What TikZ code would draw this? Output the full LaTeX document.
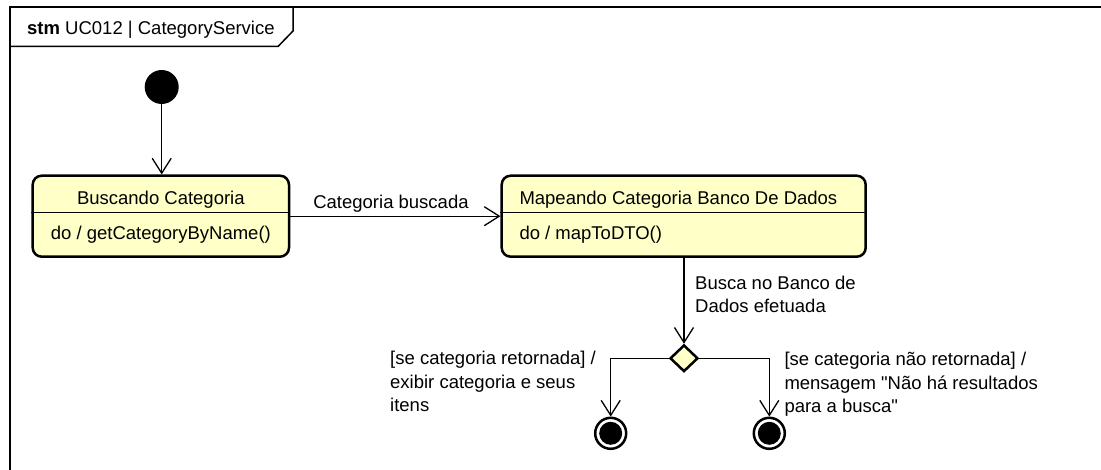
\documentclass[tikz,border=0pt]{standalone}
\usepackage{fontspec}
\setmainfont{Liberation Sans}
\usetikzlibrary{arrows.meta,shapes.geometric}
\definecolor{stfill}{RGB}{255,255,200}
\newcommand\dq{\XeTeXglyph\XeTeXglyphindex "quotedbl"\relax}
\begin{document}
\begin{tikzpicture}[x=1pt,y=-1pt,
  every node/.style={font=\fontsize{18.5}{23.4}\selectfont, inner sep=0pt},
  statebox/.style={draw, line width=2.5pt, rounded corners=9pt, fill=stfill, minimum width=#1, minimum height=81pt},
  conn/.style={line width=1.3pt, -{Straight Barb[length=15pt,width=19pt]}},
  divider/.style={line width=1.3pt},
  final/.style={circle, draw, line width=2.5pt, fill=white, minimum size=31pt},
  decision/.style={diamond, draw, fill=stfill, line width=2.5pt, minimum width=28pt, minimum height=26.7pt},
  lbl/.style={align=left, anchor=north west}
]
\useasboundingbox (0,0) rectangle (1101,470);
% frame
\draw[line width=2pt] (9.5,470) -- (9.5,7.5) -- (1101,7.5);
\draw[line width=1.5pt] (9.5,46.5) -- (278,46.5) -- (293,31) -- (293,7.5);
\node[anchor=base west] (title) at (27,35) {\textbf{stm} UC012 | CategoryService};

% initial
\node[circle, fill=black, minimum size=34pt] (init) at (161.7,87) {};

% states
\node[statebox=256.3] (b1) at (160.85,216.2) {};
\draw[divider] (b1.west |- 0,212.3) -- (b1.east |- 0,212.3);
\node[anchor=base] (b1t) at (160.85,204.3) {Buscando Categoria};
\node[anchor=base] (b1d) at (160.85,239.5) {do / getCategoryByName()};

\node[statebox=364] (b2) at (683.7,216.2) {};
\draw[divider] (b2.west |- 0,212.3) -- (b2.east |- 0,212.3);
\node[anchor=base west] (b2t) at (519.3,204.3) {Mapeando Categoria Banco De Dados};
\node[anchor=base west] (b2d) at (519.3,239.5) {do / mapToDTO()};

% decision and finals
\node[decision] (dec) at (684,358.3) {};
\node[final] (f1) at (610.7,433.3) {};
\fill (f1.center) circle (11.5);
\node[final] (f2) at (769.3,433.3) {};
\fill (f2.center) circle (11.5);

% connectors
\draw[conn] (init) -- (b1.north -| init);
\draw[conn] (b1.east) -- (b2.west);
\node[anchor=base] (l1) at (391,209) {Categoria buscada};
\draw[conn] (b2.south -| dec) -- (dec.north);
\node[lbl] (l2) at (695,275.8) {Busca no Banco de\\Dados efetuada};
\draw[conn] (dec.west) -| (f1.north);
\draw[conn] (dec.east) -| (f2.north);
\node[lbl] (l3) at (390,351.2) {[se categoria retornada] /\\exibir categoria e seus\\itens};
\node[lbl] (l4) at (784.3,352.2) {[se categoria não retornada] /\\mensagem \dq Não há resultados\\para a busca\dq};
\end{tikzpicture}
\end{document}
